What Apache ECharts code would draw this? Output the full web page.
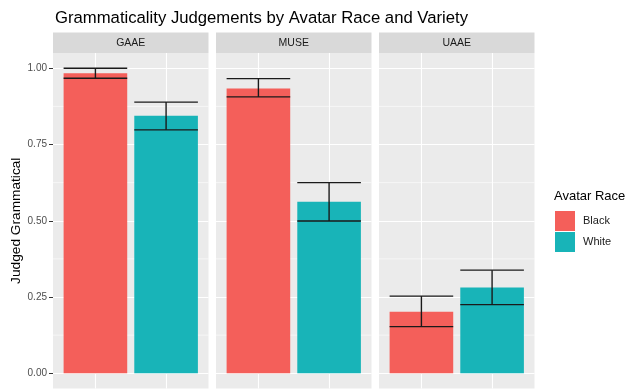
<!DOCTYPE html>
<html>
<head>
<meta charset="utf-8">
<script src="https://cdn.jsdelivr.net/npm/echarts@6/dist/echarts.min.js"></script>
<style>
  html, body { margin: 0; padding: 0; background: #fff; }
  #chart { width: 630px; height: 389px; }
</style>
</head>
<body>
<div id="chart"></div>
<script>
// Facets and groups
const varieties = ['GAAE', 'MUSE', 'UAAE'];
const races = ['Black', 'White'];

// Mean proportion judged grammatical, with error bar bounds, per variety
const blackMean = [0.984, 0.934, 0.202];
const blackLow  = [0.967, 0.906, 0.153];
const blackHigh = [1.000, 0.966, 0.253];
const whiteMean = [0.844, 0.562, 0.281];
const whiteLow  = [0.798, 0.499, 0.225];
const whiteHigh = [0.889, 0.625, 0.338];

// Axis ticks
const yMajor = [0, 0.25, 0.5, 0.75, 1];
const yMinor = [0.125, 0.375, 0.625, 0.875];
const yTickLabels = ['0.00', '0.25', '0.50', '0.75', '1.00'];

const colors = { Black: '#F45F5A', White: '#18B4B8' };
const font = '"Liberation Sans", Arial, sans-serif';

// Facet panel layout (pixels)
const panelLeft0 = 53, panelW = 155.5, panelGap = 7.5;
const panelTop = 53, panelH = 335.5;
const stripTop = 32.5;
const xMin = 0.4, xMax = 2.6;

const grids = [], xAxes = [], yAxes = [], series = [], graphics = [];

const groups = [
  { race: 'Black', mean: blackMean, low: blackLow, high: blackHigh, x: 1 },
  { race: 'White', mean: whiteMean, low: whiteLow, high: whiteHigh, x: 2 }
];

varieties.forEach((v, i) => {
  const left = panelLeft0 + i * (panelW + panelGap);
  grids.push({
    left: left, top: panelTop, width: panelW, height: panelH,
    show: true, backgroundColor: '#EBEBEB', borderWidth: 0
  });
  // discrete x position: categories at 1 and 2, expanded by 0.6
  xAxes.push({
    gridIndex: i, type: 'value', min: xMin, max: xMax,
    axisLine: { show: false },
    axisLabel: { show: false },
    axisTick: { show: false, customValues: [1, 2] },
    splitLine: { show: true, lineStyle: { color: '#FFFFFF', width: 1.1 } }
  });
  yAxes.push({
    gridIndex: i, type: 'value', min: -0.05, max: 1.05,
    axisLine: { show: false },
    axisTick: {
      show: i === 0, length: 4, customValues: yMajor,
      lineStyle: { color: '#333333', width: 1 }
    },
    axisLabel: {
      show: i === 0, customValues: yMajor, margin: 6,
      color: '#4D4D4D', fontSize: 10, fontFamily: font,
      formatter: (val) => yTickLabels[yMajor.indexOf(+val.toFixed(3))] ?? ''
    },
    splitLine: { show: true, lineStyle: { color: '#FFFFFF', width: 1.1 } },
    name: i === 0 ? 'Judged Grammatical' : '',
    nameLocation: 'middle', nameGap: 30, nameRotate: 90,
    nameTextStyle: { color: '#000000', fontSize: 13.7, fontFamily: font }
  });

  // minor horizontal gridlines
  series.push({
    type: 'custom', name: 'minor-grid', silent: true,
    xAxisIndex: i, yAxisIndex: i, z: 1,
    data: yMinor.map(y => [y]),
    renderItem: (params, api) => {
      const y = api.value(0);
      const a = api.coord([xMin, y]);
      const b = api.coord([xMax, y]);
      return { type: 'line', shape: { x1: a[0], y1: a[1], x2: b[0], y2: b[1] },
               style: { stroke: '#FFFFFF', lineWidth: 0.6 } };
    }
  });

  groups.forEach(g => {
    series.push({
      type: 'custom', name: g.race,
      xAxisIndex: i, yAxisIndex: i,
      z: 5,
      itemStyle: { color: colors[g.race] },
      data: [[g.x, g.mean[i], g.low[i], g.high[i]]],
      renderItem: (params, api) => {
        const x = api.value(0), m = api.value(1), lo = api.value(2), hi = api.value(3);
        const p0 = api.coord([x - 0.45, m]);
        const p1 = api.coord([x + 0.45, 0]);
        const lt = api.coord([x - 0.45, lo]);
        const rt = api.coord([x + 0.45, lo]);
        const ht = api.coord([x - 0.45, hi]);
        const hr = api.coord([x + 0.45, hi]);
        const c = api.coord([x, hi]);
        const cl = api.coord([x, lo]);
        const err = { stroke: '#1A1A1A', lineWidth: 1.4 };
        return {
          type: 'group',
          children: [
            { type: 'rect', shape: { x: p0[0], y: p0[1], width: p1[0] - p0[0], height: p1[1] - p0[1] },
              style: { fill: colors[g.race] } },
            { type: 'line', shape: { x1: ht[0], y1: ht[1], x2: hr[0], y2: hr[1] }, style: err },
            { type: 'line', shape: { x1: lt[0], y1: lt[1], x2: rt[0], y2: rt[1] }, style: err },
            { type: 'line', shape: { x1: c[0], y1: c[1], x2: cl[0], y2: cl[1] }, style: err }
          ]
        };
      }
    });
  });

  // facet strip
  graphics.push({
    type: 'rect', left: left, top: stripTop,
    shape: { width: panelW, height: panelTop - stripTop },
    style: { fill: '#D9D9D9' }
  });
  graphics.push({
    type: 'text', x: left + panelW / 2, y: (stripTop + panelTop) / 2,
    style: { text: v, fill: '#1A1A1A', fontSize: 10.5, fontFamily: font,
             align: 'center', verticalAlign: 'middle' }
  });
});

const chart = echarts.init(document.getElementById('chart'), null, { renderer: 'canvas' });
chart.setOption({
  backgroundColor: '#FFFFFF',
  animation: false,
  title: [
    { text: 'Grammaticality Judgements by Avatar Race and Variety', left: 50, top: 5,
      textStyle: { color: '#000000', fontSize: 16.7, fontWeight: 'normal', fontFamily: font } },
    { text: 'Avatar Race', left: 549, top: 185,
      textStyle: { color: '#000000', fontSize: 13, fontWeight: 'normal', fontFamily: font } }
  ],
  legend: {
    orient: 'vertical', left: 555, top: 211,
    itemWidth: 20, itemHeight: 20, itemGap: 1,
    data: races.map(r => ({ name: r, icon: 'rect', itemStyle: { color: colors[r] } })),
    textStyle: { color: '#1A1A1A', fontSize: 11, fontFamily: font, padding: [0, 0, 0, 3] },
    padding: 0
  },
  grid: grids,
  xAxis: xAxes,
  yAxis: yAxes,
  series: series,
  graphic: graphics
});
</script>
</body>
</html>
